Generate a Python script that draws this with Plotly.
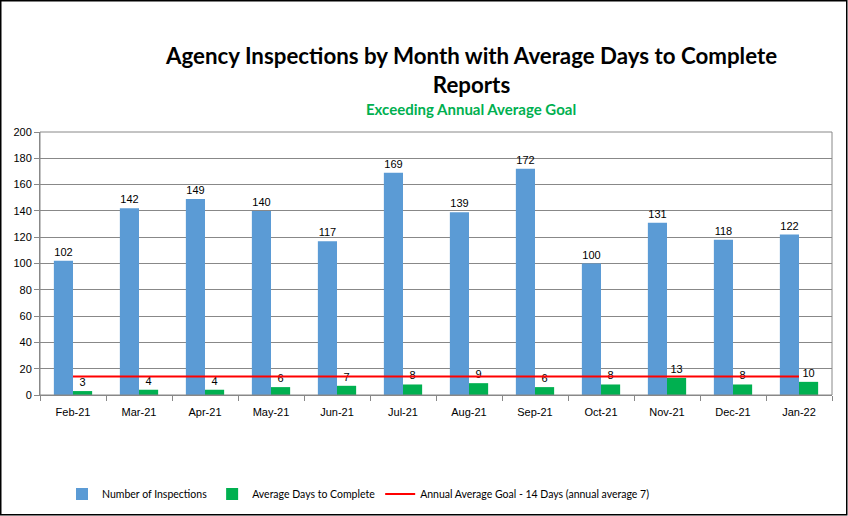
import plotly.graph_objects as go

months = ["Feb-21", "Mar-21", "Apr-21", "May-21", "Jun-21", "Jul-21", "Aug-21",
          "Sep-21", "Oct-21", "Nov-21", "Dec-21", "Jan-22"]
inspections = [102, 142, 149, 140, 117, 169, 139, 172, 100, 131, 118, 122]
avg_days = [3, 4, 4, 6, 7, 8, 9, 6, 8, 13, 8, 10]
goal = [14] * len(months)
y_ticks = [0, 20, 40, 60, 80, 100, 120, 140, 160, 180, 200]

num_font = dict(family="Liberation Sans, Arial", size=11, color="#000000")

W, H = 848, 516
ML, MR, MT, MB = 40, 16, 132, 121
pw = W - ML - MR
ph = H - MT - MB


def px_x(x):
    return (x - ML) / pw


def px_y(y):
    return (H - MB - y) / ph


fig = go.Figure()
fig.add_trace(go.Bar(
    x=months, y=inspections, name="Number of Inspections",
    marker=dict(color="#5B9BD5", line=dict(width=0)),
    text=inspections, textposition="outside", textfont=num_font,
    cliponaxis=False,
))
fig.add_trace(go.Bar(
    x=months, y=avg_days, name="Average Days to Complete",
    marker=dict(color="#00B050", line=dict(width=0)),
    text=avg_days, textposition="outside", textfont=num_font,
    cliponaxis=False,
))
fig.add_trace(go.Scatter(
    x=months, y=goal, mode="lines",
    name="Annual Average Goal - 14 Days (annual average 7)",
    line=dict(color="#FF0000", width=2),
))

fig.update_layout(
    width=W, height=H,
    margin=dict(l=ML, r=MR, t=MT, b=MB, autoexpand=False),
    paper_bgcolor="white", plot_bgcolor="white",
    barmode="group", bargap=0.42, bargroupgap=0,
    showlegend=True,
    legend=dict(orientation="h", xref="container", yref="container",
                x=62 / W, y=1 - 494 / H, xanchor="left", yanchor="middle",
                font=dict(family="Lato, Carlito, sans-serif", size=10.5, color="#000000"),
                traceorder="normal", itemwidth=30, bgcolor="rgba(0,0,0,0)"),
)

fig.add_annotation(text="<b>Agency Inspections by Month with Average Days to Complete<br>Reports</b>",
                   x=px_x(471), y=px_y(70), xref="paper", yref="paper", showarrow=False,
                   font=dict(family="Lato, Carlito, sans-serif", size=22.3, color="#000000"),
                   xanchor="center", yanchor="middle")
fig.add_annotation(text="<b>Exceeding Annual Average Goal</b>",
                   x=px_x(471), y=px_y(109), xref="paper", yref="paper", showarrow=False,
                   font=dict(family="Lato, Carlito, sans-serif", size=15, color="#00B050"),
                   xanchor="center", yanchor="middle")

# plot area border
fig.add_shape(type="rect", xref="paper", yref="paper", x0=0, x1=1, y0=0, y1=1,
              line=dict(color="#888888", width=1))
# outer border of the whole chart
fig.add_shape(type="rect", xref="paper", yref="paper",
              x0=px_x(0.75), x1=px_x(W - 1.25), y0=px_y(H - 1.25), y1=px_y(0.75),
              line=dict(color="#000000", width=1.5), layer="above")

fig.update_xaxes(
    type="category", showgrid=False, showline=True, linecolor="#888888", linewidth=1,
    ticks="outside", ticklen=5, tickcolor="#888888", tickson="boundaries",
    tickfont=num_font, ticklabelstandoff=7, automargin=False,
)
fig.update_yaxes(
    range=[0, 200], tickvals=y_ticks, showgrid=True, gridcolor="#888888", gridwidth=1,
    showline=True, linecolor="#888888", ticks="outside", ticklen=5, tickcolor="#888888",
    tickfont=num_font, zeroline=False, automargin=False,
)

fig.write_html("out.html", config={"displayModeBar": False},
               post_script="document.body.style.margin='0';")
